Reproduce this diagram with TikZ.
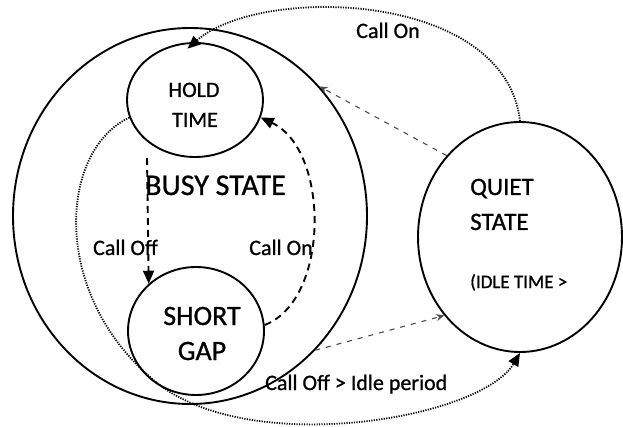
\documentclass[tikz,border=0pt]{standalone}
\usepackage{fontspec}
\setmainfont{Carlito}[FakeBold=0.9]
\usetikzlibrary{arrows.meta,shapes.geometric}
\begin{document}
\begin{tikzpicture}[x=1pt,y=-1pt,
  state/.style={ellipse,draw,line width=1.9pt,inner sep=0pt},
  lbl/.style={inner sep=0pt,anchor=base},
  lblw/.style={inner sep=0pt,anchor=base west},
  dashline/.style={line width=1.9pt,dash pattern=on 7pt off 5pt},
  dotline/.style={line width=1.8pt,dash pattern=on 1.2pt off 1.3pt},
  faint/.style={line width=1.1pt,black!70,dash pattern=on 5pt off 6pt},
  tip/.style={-{Triangle[length=13pt,width=11pt]}},
  ftip/.style={-{Stealth[length=8pt,width=7pt]}},
]
\useasboundingbox (0,0) rectangle (623,427);
% states
\node[state,minimum width=354pt,minimum height=376pt] (busy) at (190,216) {};
\node[state,minimum width=136pt,minimum height=114pt] (hold) at (195,100) {};
\node[state,minimum width=136pt,minimum height=128pt] (gap) at (196,331) {};
\node[state,minimum width=204pt,minimum height=230pt] (quiet) at (520,237) {};
% texts
\node[lbl,font=\fontsize{22}{26}\selectfont] (holdA) at (194,97) {HOLD};
\node[lbl,font=\fontsize{22}{26}\selectfont] (holdB) at (195,127) {TIME};
\node[lbl,font=\fontsize{30}{34}\selectfont] (busyT) at (215.5,195) {BUSY STATE};
\node[lbl,font=\fontsize{28}{32}\selectfont] (gapA) at (202,325) {SHORT};
\node[lbl,font=\fontsize{28}{32}\selectfont] (gapB) at (202,360) {GAP};
\node[lblw,font=\fontsize{25}{29}\selectfont] (quietA) at (470,195) {QUIET};
\node[lblw,font=\fontsize{25}{29}\selectfont] (quietB) at (470,230) {STATE};
\node[lblw,font=\fontsize{19}{22}\selectfont] (quietC) at (470,288) {(IDLE TIME >};
\node[lbl,font=\fontsize{22}{26}\selectfont] (coffL) at (125.5,255) {Call Off};
\node[lbl,font=\fontsize{22}{26}\selectfont] (conL) at (281,255) {Call On};
\node[lbl,font=\fontsize{22}{26}\selectfont] (conTop) at (388,38) {Call On};
\node[lblw,font=\fontsize{22}{26}\selectfont] (idleL) at (265,390) {Call Off > Idle period};
% connectors
\coordinate (coffA) at (147,158);
\draw[dashline,tip] (coffA) -- (gap.135);
\draw[dashline,tip] (gap.5) .. controls (330,300) and (330,150) .. (hold.345);
\draw[dotline,tip,shorten >=-10pt] (quiet.north) .. controls (505,-10) and (260,-15) .. (hold.north);
\draw[faint,ftip] (quiet.132) -- (busy.45);
\draw[faint,ftip] (busy.313) -- (quiet.226);
\draw[dotline,tip] (hold.195) .. controls (60,150) and (50,290) .. (150,377)
  .. controls (240,460) and (480,420) .. (quiet.south);
\end{tikzpicture}
\end{document}
